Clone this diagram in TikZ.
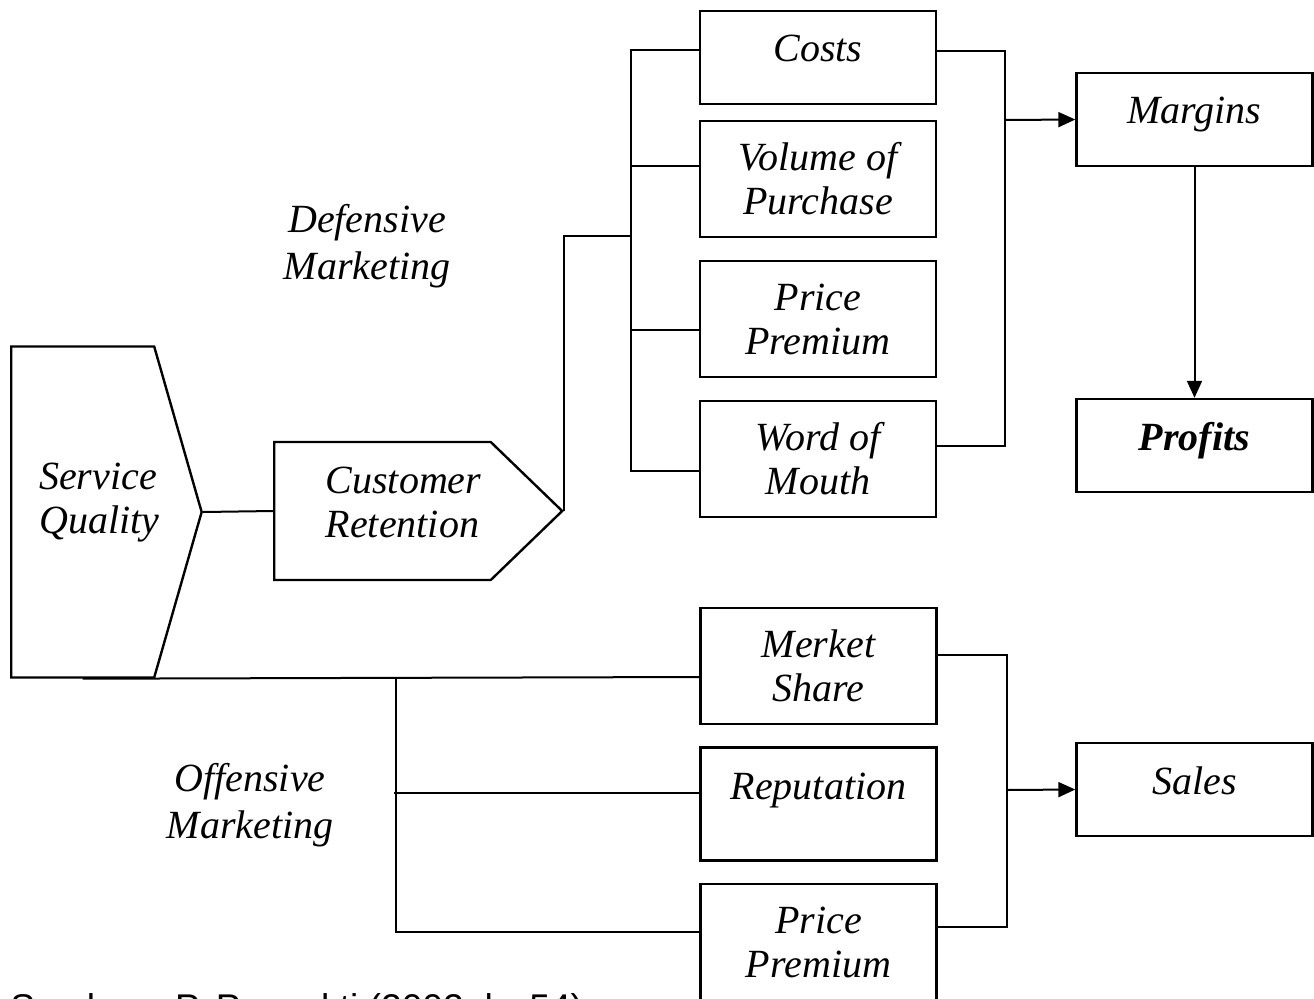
\documentclass[tikz,border=0pt]{standalone}
\usepackage{fontspec}
\setmainfont{Liberation Serif}
\newfontfamily\notefont{Liberation Sans}
\usetikzlibrary{shapes.symbols, arrows.meta, positioning}

\tikzstyle{box} = [rectangle, draw=black, line width=1.2pt,
minimum width=118pt,
minimum height=58pt,
align=center,
font=\fontsize{20}{22}\selectfont\itshape]
\tikzstyle{onebox} = [box,
minimum height=46.5pt,
text depth=9pt]
\tikzstyle{flag} = [signal, signal to=east, draw=black, line width=1.2pt,
align=left, inner xsep=0pt,
font=\fontsize{20}{22}\selectfont\itshape]
\tikzstyle{freetext} = [align=center, font=\fontsize{20}{23.5}\selectfont\itshape]
\tikzstyle{line} = [line width=1pt]
\tikzstyle{arrow} = [line width=1pt,-{Triangle[length=8.5pt,width=7.5pt]}]

\begin{document}
\begin{tikzpicture}[x=0.5pt, y=-0.5pt, node distance=70pt]
\useasboundingbox (0,0) rectangle (1314,998);
\node (sq) [flag, text width=71.5pt, minimum height=165.5pt, signal pointer angle=148, text depth=36pt, anchor=west] at (10,512) {\makebox[0pt][l]{\hspace*{14pt}Service}\\\makebox[0pt][l]{\hspace*{14pt}Quality}};
\node (cr) [flag, minimum width=144pt, minimum height=69pt, signal pointer angle=88, text depth=9pt, anchor=west] at (273,511) {\hspace*{21pt}Customer\\\hspace*{21pt}Retention};
\node (def) [freetext] at (367,246) {Defensive\\Marketing};
\node (off) [freetext] at (250,805) {Offensive\\Marketing};
\node (costs) [onebox] at (818,57.5) {Costs};
\node (vol) [box] at (818,179) {Volume of\\Purchase};
\node (pricea) [box, below of=vol] {Price\\Premium};
\node (word) [box, below of=pricea] {Word of\\Mouth};
\node (merket) [box] at (818.5,666) {Merket\\Share};
\node (rep) [onebox, below of=merket, minimum height=56.5pt, text depth=18pt, yshift=1pt] {Reputation};
\node (priceb) [box, below of=rep, yshift=1pt] {Price\\Premium};
\node (margins) [onebox] at (1194.5,119.5) {Margins};
\node (profits) [onebox, below of=margins, yshift=-93pt, font=\fontsize{20}{22}\selectfont\bfseries\itshape] {Profits};
\node (sales) [onebox] at (1194.5,789.5) {Sales};
\node (src) [anchor=base west, inner sep=0pt, font=\notefont\fontsize{18.6}{20}\selectfont] at (10,1020) {Sumber : P. Purwakti (2002, h. 54)};

\coordinate (dup) at (631,236);
\coordinate (dright) at (1005,120);
\coordinate (obus) at (396,677);
\coordinate (oright) at (1007,790);

\draw [line] (sq.east) -- (cr.west);
\draw [line] (cr.east) |- (dup);
\draw [line] ([yshift=3.75pt]costs.west) -| (dup) |- ([yshift=-6pt]word.west);
\draw [line] ([yshift=6.5pt]vol.west) -- ++(-69,0);
\draw [line] ([yshift=-5.5pt]pricea.west) -- ++(-69,0);
\draw [line] ([yshift=3.5pt]costs.east) -| (dright) |- ([yshift=6.5pt]word.east);
\draw [arrow] (dright) -- (margins.west);
\draw [arrow] (margins) -- (profits);

\draw [line] (sq.south) -- ([yshift=-5.5pt]merket.west);
\draw [line] (obus) |- ([yshift=5pt]priceb.west);
\draw [line] ([yshift=5.5pt]rep.west) -- ++(-305,0);
\draw [line] ([yshift=5.5pt]merket.east) -| (oright) |- ([yshift=7.5pt]priceb.east);
\draw [arrow] (oright) -- (sales.west);
\end{tikzpicture}
\end{document}
